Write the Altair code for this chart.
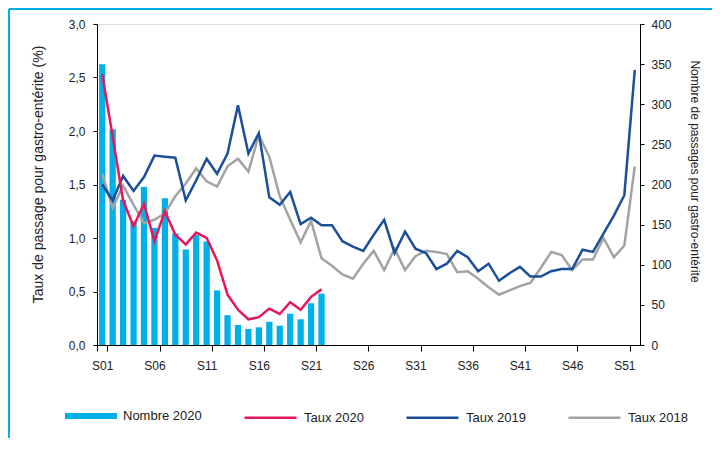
import altair as alt
import pandas as pd

weeks = ["S%02d" % i for i in range(1, 53)]
tick_weeks = ["S01", "S06", "S11", "S16", "S21", "S26", "S31", "S36", "S41", "S46", "S51"]

nombre_2020 = [350, 269, 181, 154, 197, 146, 183, 139, 119, 137, 129, 68,
               37, 25, 20, 22, 29, 24, 39, 32, 52, 64]

taux_2020 = [2.53, 1.95, 1.35, 1.11, 1.32, 0.97, 1.25, 1.03, 0.94, 1.05, 1.00,
             0.79, 0.47, 0.33, 0.24, 0.26, 0.34, 0.29, 0.40, 0.33, 0.45, 0.52]

taux_2019 = [1.50, 1.35, 1.58, 1.44, 1.57, 1.77, 1.76, 1.75, 1.35, 1.54, 1.74,
             1.60, 1.79, 2.24, 1.79, 1.98, 1.38, 1.31, 1.43, 1.13, 1.19, 1.12,
             1.12, 0.97, 0.92, 0.88, 1.03, 1.17, 0.86, 1.06, 0.90, 0.86, 0.71,
             0.76, 0.88, 0.82, 0.69, 0.76, 0.60, 0.67, 0.73, 0.64, 0.64, 0.69,
             0.71, 0.71, 0.89, 0.87, 1.04, 1.21, 1.40, 2.57]

taux_2018 = [1.60, 1.28, 1.49, 1.31, 1.14, 1.17, 1.23, 1.39, 1.51, 1.65, 1.53,
             1.48, 1.67, 1.74, 1.62, 1.96, 1.76, 1.39, 1.17, 0.96, 1.16, 0.81,
             0.74, 0.66, 0.62, 0.76, 0.88, 0.70, 0.90, 0.70, 0.83, 0.88, 0.87,
             0.85, 0.68, 0.69, 0.62, 0.54, 0.47, 0.51, 0.55, 0.58, 0.72, 0.87,
             0.84, 0.70, 0.80, 0.80, 1.00, 0.82, 0.93, 1.67]

bar_name = ["Nombre 2020"]
bar_color = ["#00B0E8"]
line_names = ["Taux 2020", "Taux 2019", "Taux 2018"]
line_colors = ["#E6185C", "#1B4F9C", "#A3A3A3"]

bars_df = pd.DataFrame({
    "week": weeks[:len(nombre_2020)],
    "nombre": nombre_2020,
    "series": "Nombre 2020",
})

rows = []
for name, vals in [("Taux 2018", taux_2018), ("Taux 2019", taux_2019), ("Taux 2020", taux_2020)]:
    for w, v in zip(weeks, vals):
        rows.append({"week": w, "taux": v, "series": name})
lines_df = pd.DataFrame(rows)

FONT = "Liberation Sans"
W, H = 543, 321
PAD_L, PAD_T = 89, 16
TOTAL_W, TOTAL_H = 704, 430
LEG_Y = 366

xscale = alt.Scale(type="band", domain=weeks, paddingInner=0, paddingOuter=0)
xaxis = alt.Axis(values=tick_weeks, tickBand="extent", tickExtra=False, labelAngle=0,
                 title=None, tickSize=6, labelPadding=9, labelFontSize=12,
                 domainColor="#000", tickColor="#000", labelColor="#222", labelFont=FONT)

fill = alt.Fill(
    "series:N",
    scale=alt.Scale(domain=bar_name, range=bar_color),
    legend=alt.Legend(
        title=None, orient="none", legendX=-32, legendY=LEG_Y, direction="horizontal",
        symbolType="M-1,-0.115H1V0.115H-1Z", symbolSize=2704, symbolStrokeWidth=0,
        labelFontSize=13, labelFont=FONT, labelColor="#222", labelOffset=6, padding=0,
    ),
)

stroke = alt.Stroke(
    "series:N",
    scale=alt.Scale(domain=line_names, range=line_colors),
    legend=alt.Legend(
        title=None, orient="none", legendX=146, legendY=LEG_Y, direction="horizontal",
        symbolType="stroke", symbolSize=2704, symbolStrokeWidth=2.5,
        labelFontSize=13, labelFont=FONT, labelColor="#222", labelOffset=6,
        columnPadding=37, padding=0,
    ),
)

bars = alt.Chart(bars_df).mark_bar(width=alt.RelativeBandSize(0.6)).encode(
    x=alt.X("week:O", scale=xscale, axis=xaxis, sort=weeks),
    y=alt.Y("nombre:Q", scale=alt.Scale(domain=[0, 400], nice=False),
            axis=alt.Axis(orient="right", values=[0, 50, 100, 150, 200, 250, 300, 350, 400],
                          title="Nombre de passages pour gastro-entérite",
                          grid=False, tickSize=4, labelPadding=7, titlePadding=16,
                          titleY=147, titleFontWeight="normal", titleFontSize=12,
                          titleFont=FONT, labelFont=FONT, labelFontSize=12,
                          domainColor="#000", tickColor="#000", labelColor="#222",
                          titleColor="#222")),
    fill=fill,
)

lines = alt.Chart(lines_df).mark_line(strokeWidth=2.5).encode(
    x=alt.X("week:O", scale=xscale, axis=xaxis, sort=weeks, bandPosition=0.5),
    y=alt.Y("taux:Q", scale=alt.Scale(domain=[0, 3], nice=False),
            axis=alt.Axis(orient="left", values=[0, 0.5, 1, 1.5, 2, 2.5, 3],
                          labelExpr="replace(format(datum.value, '.1f'), '.', ',')",
                          title="Taux de passage pour gastro-entérite (%)",
                          grid=False, tickSize=4, labelPadding=8, titlePadding=23,
                          titleY=150, titleFontWeight="normal", titleFontSize=14,
                          titleFont=FONT, labelFont=FONT, labelFontSize=12,
                          domainColor="#000", tickColor="#000", labelColor="#222",
                          titleColor="#222")),
    stroke=stroke,
    detail="series:N",
)

frame_color = "#00B0E8"
frame_left = alt.Chart(alt.Data(values=[{}])).mark_rule(color=frame_color, strokeWidth=2).encode(
    x=alt.value(-PAD_L + 1), y=alt.value(-PAD_T + 1), y2=alt.value(TOTAL_H - PAD_T))
frame_top = alt.Chart(alt.Data(values=[{}])).mark_rule(color=frame_color, strokeWidth=2).encode(
    x=alt.value(-PAD_L + 1), x2=alt.value(TOTAL_W - PAD_L), y=alt.value(-PAD_T + 1))

chart = alt.layer(bars, lines, frame_left, frame_top).resolve_scale(
    y="independent"
).properties(
    width=W, height=H,
    autosize=alt.AutoSizeParams(type="none"),
    padding={"left": PAD_L, "top": PAD_T, "right": TOTAL_W - PAD_L - W, "bottom": TOTAL_H - PAD_T - H},
).configure_view(stroke=None).configure(background="white")

chart.save("out.html", embed_options={"renderer": "svg", "actions": False})
